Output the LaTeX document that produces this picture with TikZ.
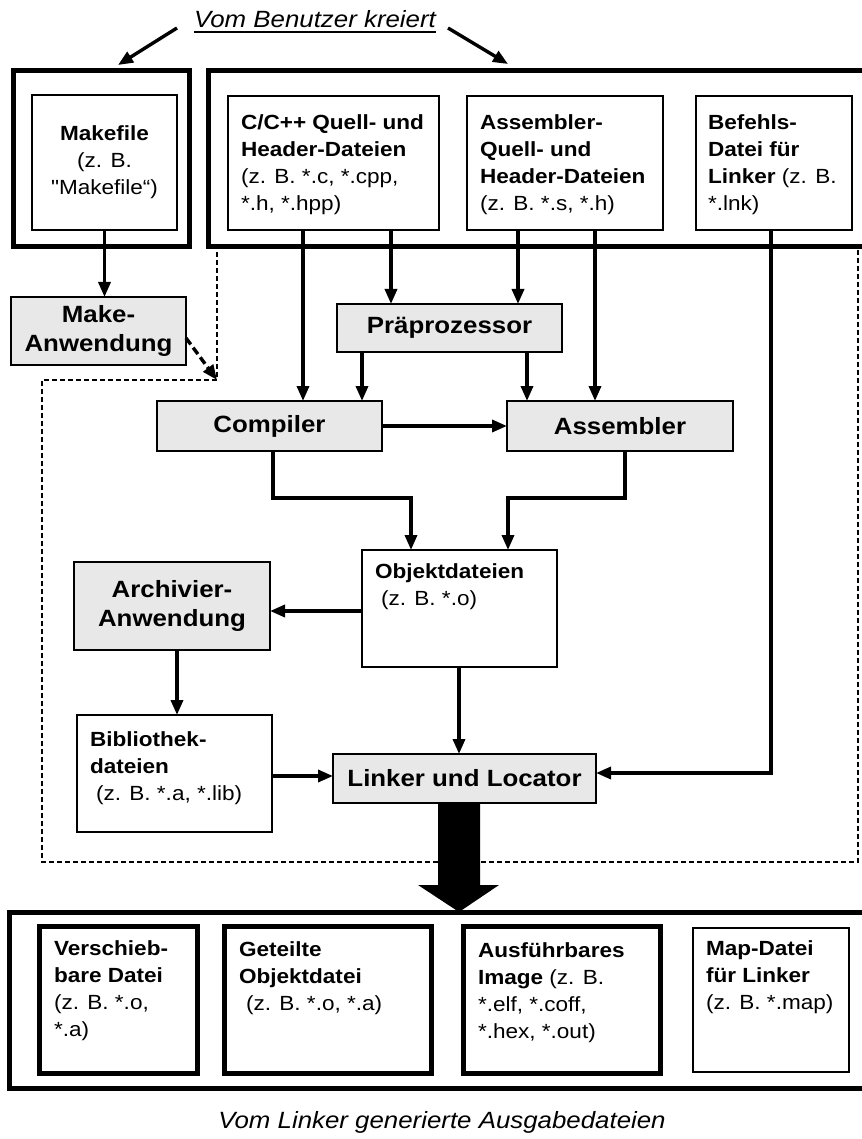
\documentclass[tikz,border=0pt]{standalone}
\usepackage{fontspec}
\newfontfamily\dfont{Liberation Sans}[FakeStretch=1.1]
\usetikzlibrary{arrows.meta,calc}
\definecolor{procgray}{RGB}{232,232,232}

\begin{document}
\begin{tikzpicture}[x=1pt,y=-1pt,
  font=\dfont,
  thinbox/.style={draw, rectangle, fill=white, line width=1.5pt, inner sep=0pt, outer sep=0pt, anchor=north west},
  thickbox/.style={thinbox, line width=5pt},
  filebox/.style={thinbox, line width=2.8pt},
  procbox/.style={thinbox, fill=procgray, line width=2.8pt, align=center,
                  font=\dfont\bfseries\fontsize{23.5}{29}\selectfont},
  small/.style={font=\dfont\fontsize{20.5}{27}\selectfont},
  lbl/.style={small, inner sep=0pt, outer sep=0pt, anchor=base west},
  conn/.style={line width=3.4pt, -{Triangle[length=15pt,width=12pt]}},
  dconn/.style={conn, dash pattern=on 8pt off 4pt},
  boundary/.style={line width=2.2pt, dash pattern=on 5pt off 3pt},
  caption/.style={font=\dfont\itshape\fontsize{23.5}{28}\selectfont, inner sep=0pt, anchor=base},
]
\useasboundingbox (0,0) rectangle (861,1139);

% tool-chain boundary (dashed)
\draw[boundary] (217,83) -- (858,83) -- (858,862) -- (42,862) -- (42,380) -- (217,380) -- cycle;
\coordinate (dcorner) at (217,380);

% user-created inputs
\node[thickbox, minimum width=176pt, minimum height=176pt] (mkout) at (13,71) {};
\node[thinbox, small, align=center, minimum width=145pt, minimum height=135pt] (mkfile) at (32,95)
  {\textbf{Makefile}\\(z. B.\\"Makefile“)};

\node[thickbox, minimum width=690pt, minimum height=176pt] (srcout) at (208,71) {};
\node[thinbox, minimum width=211pt, minimum height=134pt] (ccsrc) at (228,96) {};
\node[lbl] (ccsrc-t) at (241,130) {\begin{tabular}[t]{@{}l@{}}\textbf{C/C++ Quell- und}\\\textbf{Header-Dateien}\\(z. B. *.c, *.cpp,\\{}*.h, *.hpp)\end{tabular}};
\node[thinbox, minimum width=196pt, minimum height=134pt] (asmsrc) at (467,96) {};
\node[lbl] (asmsrc-t) at (480,130) {\begin{tabular}[t]{@{}l@{}}\textbf{Assembler-}\\\textbf{Quell- und}\\\textbf{Header-Dateien}\\(z. B. *.s, *.h)\end{tabular}};
\node[thinbox, minimum width=156pt, minimum height=134pt] (lnkcmd) at (696,96) {};
\node[lbl] (lnkcmd-t) at (708,130) {\begin{tabular}[t]{@{}l@{}}\textbf{Befehls-}\\\textbf{Datei für}\\\textbf{Linker} (z. B.\\{}*.lnk)\end{tabular}};

% tools and intermediate files
\node[procbox, minimum width=175pt, minimum height=68pt] (make) at (11,297) {Make-\\Anwendung};
\node[procbox, minimum width=225pt, minimum height=48pt] (prep) at (337,304) {Präprozessor};
\node[procbox, minimum width=225pt, minimum height=50pt] (comp) at (157,401) {Compiler};
\node[procbox, minimum width=226pt, minimum height=50pt] (asm) at (507,401) {Assembler};
\node[filebox, minimum width=195pt, minimum height=117pt] (obj) at (362,550) {};
\node[lbl] (obj-t) at (375,578) {\begin{tabular}[t]{@{}l@{}}\textbf{Objektdateien}\\\hspace*{6pt}(z. B. *.o)\end{tabular}};
\node[procbox, minimum width=196pt, minimum height=88pt] (arch) at (74,562) {Archivier-\\Anwendung};
\node[filebox, minimum width=195pt, minimum height=117pt] (bib) at (77,715) {};
\node[lbl] (bib-t) at (90,746) {\begin{tabular}[t]{@{}l@{}}\textbf{Bibliothek-}\\\textbf{dateien}\\\hspace*{6pt}(z. B. *.a, *.lib)\end{tabular}};
\node[procbox, minimum width=263pt, minimum height=49pt] (link) at (333,754) {Linker und Locator};

% linker outputs
\node[thickbox, minimum width=890pt, minimum height=176pt] (outbox) at (9,912) {};
\node[thickbox, minimum width=158pt, minimum height=147pt] (reloc) at (39,926) {};
\node[lbl] (reloc-t) at (54,955) {\begin{tabular}[t]{@{}l@{}}\textbf{Verschieb-}\\\textbf{bare Datei}\\(z. B. *.o,\\{}*.a)\end{tabular}};
\node[thickbox, minimum width=207pt, minimum height=147pt] (shared) at (224,926) {};
\node[lbl] (shared-t) at (239,956) {\begin{tabular}[t]{@{}l@{}}\textbf{Geteilte}\\\textbf{Objektdatei}\\\hspace*{7pt}(z. B. *.o, *.a)\end{tabular}};
\node[thickbox, minimum width=197pt, minimum height=147pt] (exe) at (463,926) {};
\node[lbl] (exe-t) at (478,957) {\begin{tabular}[t]{@{}l@{}}\textbf{Ausführbares}\\\textbf{Image} (z. B.\\{}*.elf, *.coff,\\{}*.hex, *.out)\end{tabular}};
\node[thinbox, minimum width=156pt, minimum height=144pt] (map) at (693,928) {};
\node[lbl] (map-t) at (706,955) {\begin{tabular}[t]{@{}l@{}}\textbf{Map-Datei}\\\textbf{für Linker}\\(z. B. *.map)\end{tabular}};

% captions
\node[caption] (user) at (315,28) {Vom Benutzer kreiert};
\draw[line width=1.8pt] ([yshift=-4pt]user.base west) -- ([yshift=-4pt]user.base east);
\node[caption] (gen) at (442,1128) {Vom Linker generierte Ausgabedateien};

\coordinate (uL) at (177,28);
\coordinate (uLt) at (118,65);
\coordinate (uR) at (448,28);
\coordinate (uRt) at (508,64);
\draw[conn] (uL) -- (uLt);
\draw[conn] (uR) -- (uRt);

% connector lanes
\coordinate (xB) at (303,0);
\coordinate (xC) at (391,0);
\coordinate (xD) at (518,0);
\coordinate (xE) at (595,0);
\coordinate (xF) at (771,0);
\coordinate (xG) at (362,0);
\coordinate (xH) at (527,0);
\coordinate (xI) at (273,0);
\coordinate (xJ) at (411,0);
\coordinate (xK) at (625,0);
\coordinate (xL) at (508,0);
\coordinate (xM) at (459,0);
\coordinate (xN) at (177,0);
\coordinate (yM) at (0,498);
\coordinate (yO) at (0,611);
\coordinate (yB) at (0,776);
\coordinate (yL) at (0,773);

\draw[conn] (mkfile.south) -- (mkfile.south |- make.north);
\draw[dconn] ($(make.south east)+(0,-27)$) -- (dcorner);
\draw[conn] (ccsrc.south -| xB) -- (comp.north -| xB);
\draw[conn] (ccsrc.south -| xC) -- (prep.north -| xC);
\draw[conn] (asmsrc.south -| xD) -- (prep.north -| xD);
\draw[conn] (asmsrc.south -| xE) -- (asm.north -| xE);
\draw[conn] (prep.south -| xG) -- (comp.north -| xG);
\draw[conn] (prep.south -| xH) -- (asm.north -| xH);
\draw[conn] (comp.east) -- (asm.west);
\draw[conn] (comp.south -| xI) |- (xJ |- yM) -- (obj.north -| xJ);
\draw[conn] (asm.south -| xK) |- (xL |- yM) -- (obj.north -| xL);
\draw[conn] (obj.west |- yO) -- (arch.east |- yO);
\draw[conn] (arch.south -| xN) -- (bib.north -| xN);
\draw[conn] (bib.east |- yB) -- (link.west |- yB);
\draw[conn] (obj.south -| xM) -- (link.north -| xM);
\draw[conn] (lnkcmd.south -| xF) |- (link.east |- yL);

% wide output arrow
\coordinate (bt) at (link.south -| xM);
\coordinate (bb) at (outbox.north -| xM);
\fill ($(bt)+(-21,0)$) -- ($(bt)+(21,0)$) -- ($(bt)+(21,82)$) -- ($(bt)+(40,82)$) -- (bb)
  -- ($(bt)+(-41,82)$) -- ($(bt)+(-21,82)$) -- cycle;
\end{tikzpicture}
\end{document}
